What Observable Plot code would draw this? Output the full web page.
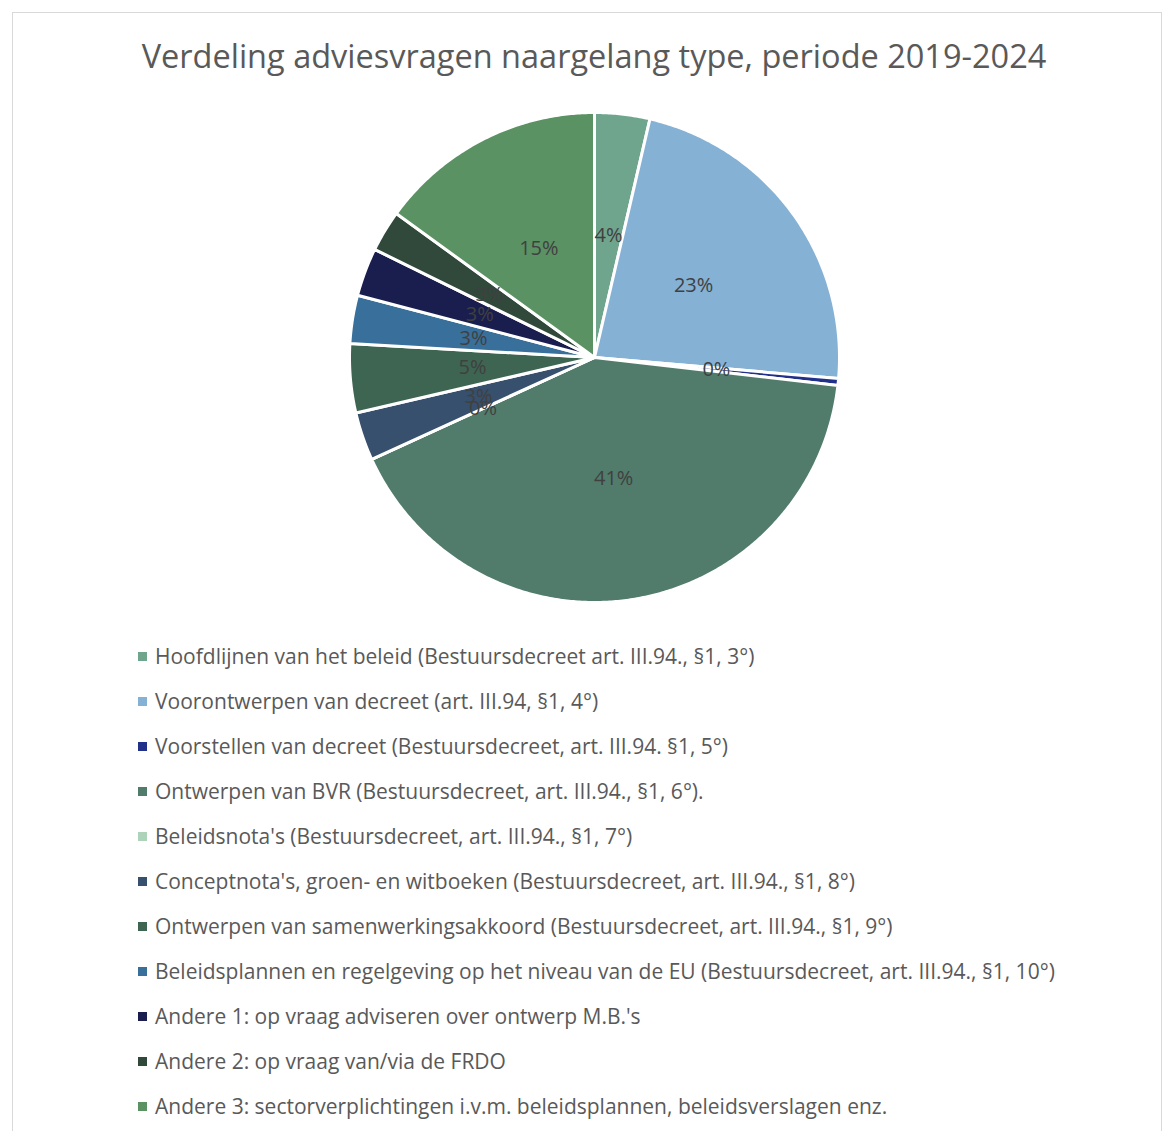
<!DOCTYPE html>
<html>
<head>
<meta charset="utf-8">
<script src="https://cdn.jsdelivr.net/npm/d3@7"></script>
<script src="https://cdn.jsdelivr.net/npm/@observablehq/plot@0.6"></script>
<style>
  html, body { margin: 0; padding: 0; background: #fff; }
  #wrap { position: relative; width: 1168px; height: 1131px; overflow: hidden; font-family: "Open Sans", "Noto Sans", sans-serif; }
  #frame { position: absolute; left: 12px; top: 12px; width: 1150px; height: 1200px; border: 1px solid #d9d9d9; box-sizing: border-box; }
  #title { position: absolute; left: 0; width: 1188px; top: 34px; text-align: center; font-size: 32.5px; color: #595959; line-height: 44px; white-space: nowrap; }
  #chart { position: absolute; left: 0; top: 100px; }
  #legend { position: absolute; left: 138px; top: 643px; }
  .item { height: 45px; display: flex; align-items: flex-start; font-size: 21px; color: #595959; white-space: nowrap; line-height: 26px; }
  .sw { width: 9px; height: 9px; margin-top: 9px; margin-right: 8px; flex: none; }
</style>
</head>
<body>
<div id="wrap">
  <div id="frame"></div>
  <div id="title">Verdeling adviesvragen naargelang type, periode 2019-2024</div>
  <div id="chart"></div>
  <div id="legend"></div>
</div>
<script>
const categories = [
  "Hoofdlijnen van het beleid (Bestuursdecreet art. III.94., §1, 3°)",
  "Voorontwerpen van decreet (art. III.94, §1, 4°)",
  "Voorstellen van decreet (Bestuursdecreet, art. III.94. §1, 5°)",
  "Ontwerpen van BVR (Bestuursdecreet, art. III.94., §1, 6°).",
  "Beleidsnota's (Bestuursdecreet, art. III.94., §1, 7°)",
  "Conceptnota's, groen- en witboeken (Bestuursdecreet, art. III.94., §1, 8°)",
  "Ontwerpen van samenwerkingsakkoord (Bestuursdecreet, art. III.94., §1, 9°)",
  "Beleidsplannen en regelgeving op het niveau van de EU (Bestuursdecreet, art. III.94., §1, 10°)",
  "Andere 1: op vraag adviseren over ontwerp M.B.'s",
  "Andere 2: op vraag van/via de FRDO",
  "Andere 3: sectorverplichtingen i.v.m. beleidsplannen, beleidsverslagen enz."
];
const values = [8, 50, 1, 91, 0, 7, 10, 7, 7, 6, 33];
const colors = ["#70A58D", "#85B1D5", "#213189", "#517C6B", "#AED3BB", "#36506E", "#3E6552", "#386F9B", "#1A1E4F", "#30493B", "#5B9264"];

const total = d3.sum(values);
const table = categories.map((c, i) => ({category: c, value: values[i]}));
const arcs = d3.pie().sort(null).value(d => d.value).startAngle(0).endAngle(2 * Math.PI)(table);

// polygon outlines for each slice in unit coordinates (angle clockwise from 12 o'clock)
const outline = [];
arcs.forEach(a => {
  const key = a.data.category;
  outline.push({key, px: 0, py: 0});
  const n = Math.max(1, Math.ceil((a.endAngle - a.startAngle) / (Math.PI / 360)));
  for (let k = 0; k <= n; k++) {
    const t = a.startAngle + (a.endAngle - a.startAngle) * k / n;
    outline.push({key, px: Math.sin(t), py: Math.cos(t)});
  }
  outline.push({key, px: 0, py: 0});
});

const labels = arcs.map(a => {
  const m = (a.startAngle + a.endAngle) / 2;
  return {key: a.data.category, lx: 0.5 * Math.sin(m), ly: 0.5 * Math.cos(m), text: Math.round(a.data.value / total * 100) + "%"};
});

const plot = Plot.plot({
  width: 1168,
  height: 520,
  margin: 0,
  x: {domain: [-1, 1], range: [349, 839], axis: null},
  y: {domain: [-1, 1], range: [502, 12], axis: null},
  color: {domain: categories, range: colors},
  style: {fontFamily: "'Open Sans', 'Noto Sans', sans-serif", background: "transparent"},
  marks: [
    Plot.line(outline, {x: "px", y: "py", z: "key", fill: "key", stroke: "white", strokeWidth: 3, strokeLinejoin: "round"}),
    Plot.text(labels, {x: "lx", y: "ly", text: "text", fill: "#404040", fontSize: 20})
  ]
});
document.getElementById("chart").appendChild(plot);

const legend = document.getElementById("legend");
categories.forEach((c, i) => {
  const row = document.createElement("div");
  row.className = "item";
  const sw = document.createElement("span");
  sw.className = "sw";
  sw.style.background = colors[i];
  const tx = document.createElement("span");
  tx.textContent = c;
  row.appendChild(sw);
  row.appendChild(tx);
  legend.appendChild(row);
});
</script>
</body>
</html>
